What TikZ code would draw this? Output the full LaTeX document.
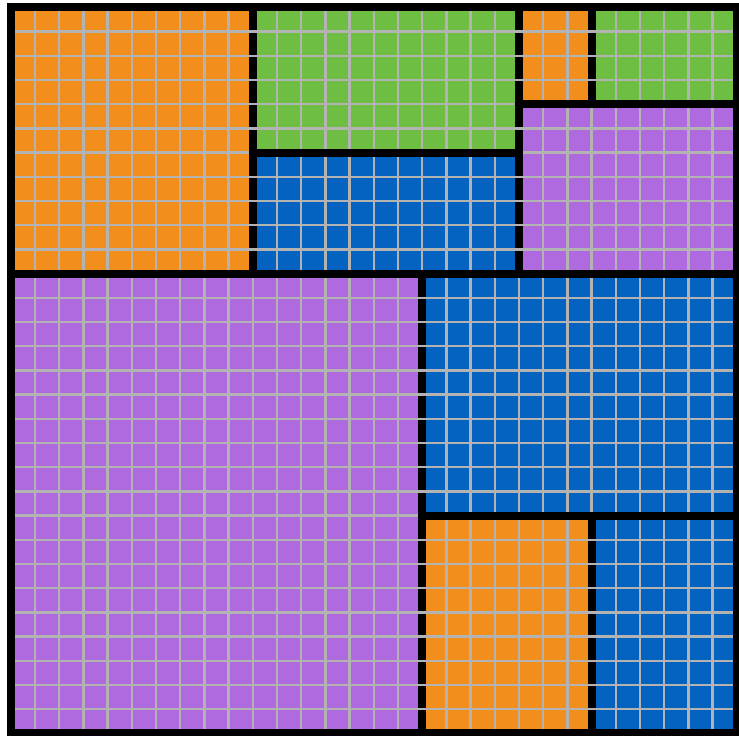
\documentclass[tikz,border=0pt]{standalone}
\definecolor{cOrange}{HTML}{F28E1C}
\definecolor{cGreen}{HTML}{6FBE44}
\definecolor{cBlue}{HTML}{0463C0}
\definecolor{cPurple}{HTML}{B06ADF}
\definecolor{cGrid}{HTML}{B3B3B3}
\tikzset{
  gridline/.style={draw=cGrid, line width=2.8pt},
  border/.style={draw=black, line width=9.4pt, line cap=rect},
  frame/.style={draw=black, line width=9.4pt, line join=miter}
}
\begin{document}
\begin{tikzpicture}[x=1cm,y=1cm]
\useasboundingbox (-0.446,-0.066) rectangle (30.09,30.306);
\fill[white] (-0.446,-0.066) rectangle (30.09,30.306);
% fills
\fill[cOrange] (0,19) rectangle (10,30);
\fill[cGreen]  (10,24) rectangle (21,30);
\fill[cBlue]   (10,19) rectangle (21,24);
\fill[cOrange] (21,26) rectangle (24,30);
\fill[cGreen]  (24,26) rectangle (30,30);
\fill[cPurple] (21,19) rectangle (30,26);
\fill[cPurple] (0,0) rectangle (17,19);
\fill[cBlue]   (17,9) rectangle (30,19);
\fill[cOrange] (17,0) rectangle (24,9);
\fill[cBlue]   (24,0) rectangle (30,9);
% grid
\foreach \i in {1,...,29} {
  \draw[gridline] (\i,0) -- (\i,30);
  \draw[gridline] (0,\i) -- (30,\i);
}
% vertical borders
\draw[border] (10,19) -- (10,30);
\draw[border] (21,19) -- (21,30);
\draw[border] (24,26) -- (24,30);
\draw[border] (17,0) -- (17,19);
\draw[border] (24,0) -- (24,9);
% horizontal grid lines over vertical borders
\foreach \i in {1,...,29} {
  \draw[gridline] (0,\i) -- (30,\i);
}
% horizontal borders
\draw[border] (0,19) -- (30,19);
\draw[border] (10,24) -- (21,24);
\draw[border] (21,26) -- (30,26);
\draw[border] (17,9) -- (30,9);
% outer frame
\draw[frame] (0,0) rectangle (30,30);
\end{tikzpicture}
\end{document}
